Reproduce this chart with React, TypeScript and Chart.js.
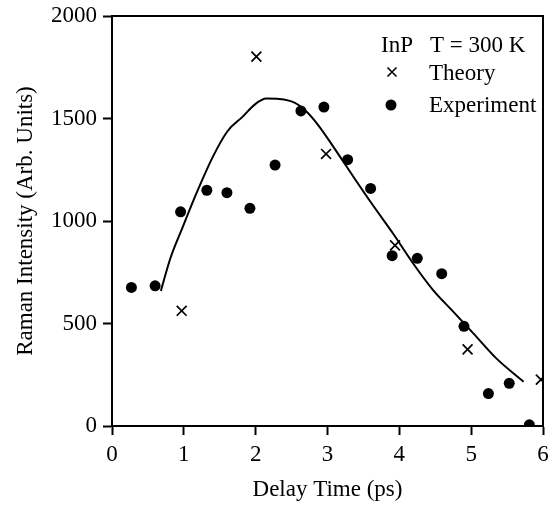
import React, { useEffect, useRef } from "react";
import { Chart, registerables } from "chart.js";

Chart.register(...registerables);

const fitX = [0.68, 0.815, 0.98, 1.2, 1.405, 1.61, 1.82, 1.99, 2.15, 2.33, 2.54, 2.71, 2.87, 3.08, 3.36, 3.63, 3.91, 4.19, 4.47, 4.75, 5.03, 5.35, 5.73];
const fitY = [659, 821, 967, 1155, 1314, 1439, 1509, 1569, 1597, 1595, 1577, 1533, 1468, 1363, 1216, 1078, 940, 794, 663, 558, 452, 330, 216];

const theoryX = [0.97, 2.01, 2.98, 3.94, 4.95, 5.97];
const theoryY = [562, 1802, 1327, 881, 374, 226];

const expX = [0.27, 0.6, 0.955, 1.32, 1.6, 1.92, 2.27, 2.63, 2.95, 3.28, 3.6, 3.9, 4.25, 4.59, 4.9, 5.24, 5.53, 5.81];
const expY = [676, 684, 1045, 1150, 1138, 1062, 1273, 1537, 1556, 1299, 1159, 831, 818, 743, 486, 158, 208, 6];

const xTicks = [0, 1, 2, 3, 4, 5, 6];
const yTicks = [0, 500, 1000, 1500, 2000];

const legendTitle = ["InP", "T = 300 K"];
const xTitle = "Delay Time (ps)";
const yTitle = "Raman Intensity (Arb. Units)";

const FONT = "'Liberation Serif', 'Times New Roman', serif";
const FS = 23;

const zip = (xs: number[], ys: number[]) => xs.map((x, i) => ({ x, y: ys[i] }));

const frame = {
  id: "frame",
  afterDatasetsDraw(chart: any) {
    const { ctx, chartArea: a } = chart;
    ctx.save();
    ctx.strokeStyle = "#000";
    ctx.lineWidth = 2;
    ctx.beginPath();
    ctx.moveTo(a.left, a.top);
    ctx.lineTo(a.right, a.top);
    ctx.lineTo(a.right, a.bottom);
    ctx.stroke();
    ctx.restore();
  },
};

const legendBox = {
  id: "legendBox",
  afterDraw(chart: any) {
    const { ctx, chartArea: a } = chart;
    const ds = chart.data.datasets;
    ctx.save();
    ctx.fillStyle = "#000";
    ctx.strokeStyle = "#000";
    ctx.font = `${FS}px ${FONT}`;
    ctx.textBaseline = "alphabetic";
    ctx.textAlign = "left";
    const r = a.right;
    const t = a.top;
    ctx.fillText(legendTitle[0], r - 162, t + 36);
    ctx.fillText(legendTitle[1], r - 113, t + 36);
    // Theory
    const cx = r - 151;
    const y1 = t + 56;
    ctx.lineWidth = 1.6;
    ctx.beginPath();
    ctx.moveTo(cx - 4.5, y1 - 4.5);
    ctx.lineTo(cx + 4.5, y1 + 4.5);
    ctx.moveTo(cx + 4.5, y1 - 4.5);
    ctx.lineTo(cx - 4.5, y1 + 4.5);
    ctx.stroke();
    ctx.fillText(ds[1].label, r - 114, t + 64);
    // Experiment
    const y2 = t + 89;
    ctx.beginPath();
    ctx.arc(cx - 1, y2, 5.5, 0, Math.PI * 2);
    ctx.fill();
    ctx.fillText(ds[2].label, r - 114, t + 96);
    ctx.restore();
  },
};

export default function App() {
  const ref = useRef<HTMLCanvasElement>(null);
  useEffect(() => {
    document.body.style.margin = "0";
    const chart = new Chart(ref.current!, {
      type: "scatter",
      data: {
        datasets: [
          {
            type: "line",
            label: "Fit",
            data: zip(fitX, fitY),
            borderColor: "#000",
            borderWidth: 2,
            pointRadius: 0,
            cubicInterpolationMode: "monotone",
            fill: false,
          } as any,
          {
            label: "Theory",
            data: zip(theoryX, theoryY),
            pointStyle: "crossRot",
            pointRadius: 7,
            borderColor: "#000",
            borderWidth: 1.7,
            backgroundColor: "#000",
          },
          {
            label: "Experiment",
            data: zip(expX, expY),
            pointStyle: "circle",
            pointRadius: 5.5,
            borderColor: "#000",
            borderWidth: 0,
            backgroundColor: "#000",
          },
        ],
      },
      options: {
        responsive: false,
        animation: false,
        layout: { padding: { top: 16, right: 9, bottom: 0, left: 0 } },
        plugins: { legend: { display: false }, tooltip: { enabled: false } },
        scales: {
          x: {
            type: "linear",
            min: 0,
            max: 6,
            afterBuildTicks: (s: any) => {
              s.ticks = xTicks.map((v) => ({ value: v }));
            },
            afterFit: (s: any) => {
              s.height = 79;
              s.paddingLeft = 0;
              s.paddingRight = 0;
            },
            ticks: { color: "#000", font: { family: FONT, size: FS }, padding: 6, maxRotation: 0, callback: (v: any) => String(v) },
            grid: { drawOnChartArea: false, drawTicks: true, tickLength: 9, tickWidth: 2, color: "#000" },
            border: { display: true, width: 2, color: "#000" },
            title: { display: true, text: xTitle, color: "#000", font: { family: FONT, size: FS }, padding: { top: 0, bottom: 1 } },
          },
          y: {
            type: "linear",
            min: 0,
            max: 2000,
            afterBuildTicks: (s: any) => {
              s.ticks = yTicks.map((v) => ({ value: v }));
            },
            afterFit: (s: any) => {
              s.width = 112;
              s.paddingTop = 0;
              s.paddingBottom = 0;
            },
            ticks: { color: "#000", font: { family: FONT, size: FS }, padding: 6, callback: (v: any) => String(v) },
            grid: { drawOnChartArea: false, drawTicks: true, tickLength: 9, tickWidth: 2, color: "#000" },
            border: { display: true, width: 2, color: "#000" },
            title: { display: true, text: yTitle, color: "#000", font: { family: FONT, size: FS }, padding: { top: 12, bottom: 0 } },
          },
        },
      },
      plugins: [frame, legendBox],
    });
    return () => chart.destroy();
  }, []);
  return <canvas ref={ref} width={552} height={505} />;
}
